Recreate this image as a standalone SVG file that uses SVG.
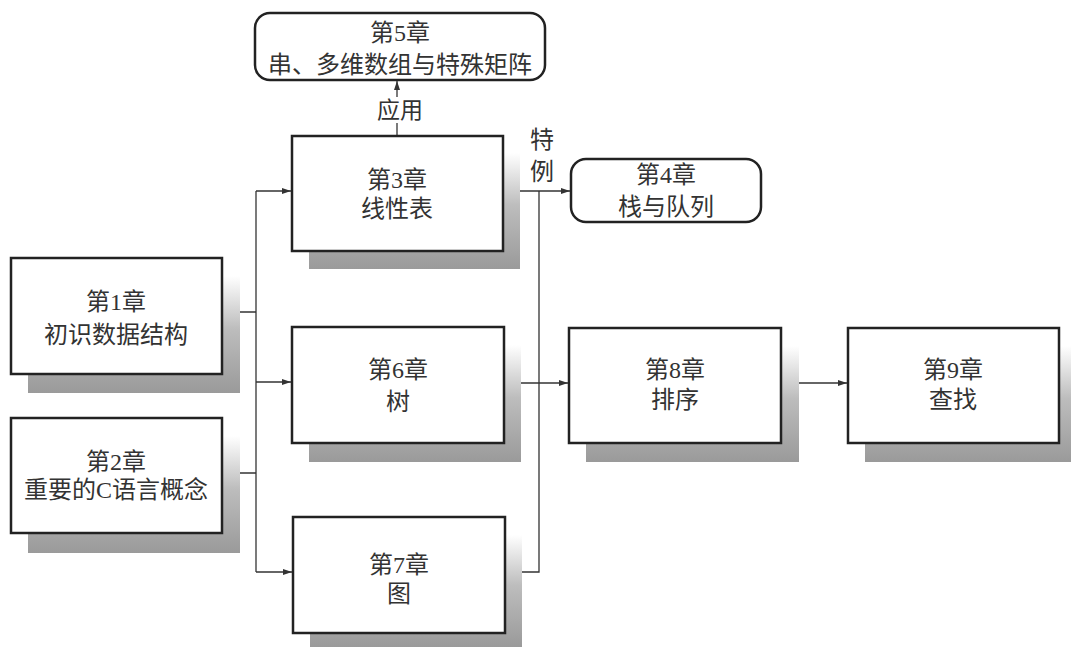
<svg xmlns="http://www.w3.org/2000/svg" width="1073" height="647" viewBox="0 0 1073 647">
<style>
.box{fill:#fff;stroke:#222;stroke-width:2.5}
.shadow{fill:url(#sg)}
.t{font-family:"Liberation Serif","Noto Sans CJK SC",serif;font-size:24px;fill:#333;text-anchor:middle}
.c{fill:none;stroke:#333;stroke-width:1.3}
</style>
<defs>
<linearGradient id="sg" x1="0" y1="0" x2="0" y2="1">
<stop offset="0" stop-color="#fff"/>
<stop offset="0.45" stop-color="#bdbdbd"/>
<stop offset="1" stop-color="#9a9a9a"/>
</linearGradient>
<marker id="ah" markerWidth="10" markerHeight="8" refX="9" refY="4" orient="auto" markerUnits="userSpaceOnUse">
<path d="M0,1 L9,4 L0,7 Z" fill="#333"/>
</marker>
</defs>
<rect width="1073" height="647" fill="#fff"/>

<g id="connectors">
<path class="c" d="M222,312 H256"/>
<path class="c" d="M222,473 H256"/>
<path class="c" d="M256,191 V572"/>
<path class="c" d="M256,191 H291" marker-end="url(#ah)"/>
<path class="c" d="M256,382 H291" marker-end="url(#ah)"/>
<path class="c" d="M256,572 H292" marker-end="url(#ah)"/>
<path class="c" d="M503,191 H570" marker-end="url(#ah)"/>
<path class="c" d="M504,383 H568" marker-end="url(#ah)"/>
<path class="c" d="M505,572 H539 V191"/>
<path class="c" d="M397,136 V123"/>
<path class="c" d="M397,97 V81" marker-end="url(#ah)"/>
<path class="c" d="M781,383 H847" marker-end="url(#ah)"/>
<text class="t" x="400" y="118" style="font-size:23px">应用</text>
<text class="t" x="542" y="148">特</text>
<text class="t" x="542" y="180">例</text>
</g>

<g id="ch5">
<rect class="box" x="255" y="13" width="290" height="67" rx="15"/>
<text class="t" x="400" y="41">第5章</text>
<text class="t" x="400" y="73">串、多维数组与特殊矩阵</text>
</g>

<g id="ch4">
<rect class="box" x="571" y="159" width="190" height="63" rx="15"/>
<text class="t" x="666" y="183">第4章</text>
<text class="t" x="666" y="215">栈与队列</text>
</g>

<g id="ch1">
<rect class="shadow" x="28" y="276" width="212" height="117"/>
<rect class="box" x="11" y="258" width="211" height="116"/>
<text class="t" x="116" y="310">第1章</text>
<text class="t" x="116" y="343">初识数据结构</text>
</g>

<g id="ch2">
<rect class="shadow" x="28" y="436" width="212" height="117"/>
<rect class="box" x="11" y="418" width="211" height="115"/>
<text class="t" x="116" y="470">第2章</text>
<text class="t" x="116" y="498">重要的C语言概念</text>
</g>

<g id="ch3">
<rect class="shadow" x="309" y="153" width="211" height="116"/>
<rect class="box" x="292" y="136" width="211" height="115"/>
<text class="t" x="397" y="188">第3章</text>
<text class="t" x="397" y="217">线性表</text>
</g>

<g id="ch6">
<rect class="shadow" x="309" y="345" width="212" height="117"/>
<rect class="box" x="292" y="327" width="212" height="116"/>
<text class="t" x="398" y="378">第6章</text>
<text class="t" x="398" y="410">树</text>
</g>

<g id="ch7">
<rect class="shadow" x="310" y="535" width="212" height="112"/>
<rect class="box" x="293" y="517" width="212" height="116"/>
<text class="t" x="399" y="573">第7章</text>
<text class="t" x="399" y="602">图</text>
</g>

<g id="ch8">
<rect class="shadow" x="586" y="346" width="213" height="116"/>
<rect class="box" x="569" y="328" width="212" height="115"/>
<text class="t" x="675" y="378">第8章</text>
<text class="t" x="675" y="408">排序</text>
</g>

<g id="ch9">
<rect class="shadow" x="865" y="346" width="206" height="116"/>
<rect class="box" x="848" y="328" width="211" height="115"/>
<text class="t" x="953" y="378">第9章</text>
<text class="t" x="953" y="408">查找</text>
</g>
</svg>
